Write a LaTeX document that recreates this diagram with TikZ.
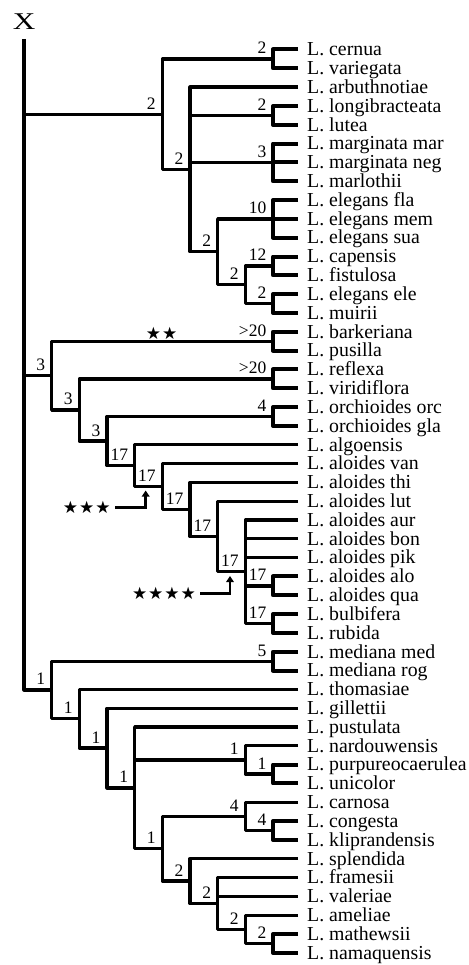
\documentclass[tikz,border=0pt]{standalone}
\usepackage{fontspec}
\usepackage{graphicx}
\setmainfont{Liberation Serif}
\newfontfamily\starfont{DejaVu Sans}
\usetikzlibrary{arrows.meta}
\begin{document}
\begin{tikzpicture}[x=1pt,y=-1pt,
  br/.style={line width=3.3pt, line join=round},
  pr/.style={line width=4pt, line join=round},
  leaf/.style={anchor=base west, inner sep=0pt, font=\fontsize{19.8}{20}\selectfont},
  lab/.style={anchor=base east, inner sep=0pt, font=\fontsize{17.5}{18}\selectfont},
  stars/.style={inner sep=0pt, anchor=center, font=\starfont\fontsize{17}{18}\selectfont},
  arr/.style={line width=2.8pt, -{Triangle[width=7.5pt,length=6pt]}}
]
\useasboundingbox (0,0) rectangle (468,965);
% title
\node[inner sep=0pt, anchor=base, font=\fontsize{24}{24}\selectfont] (X) at (24.2,29.3) {\scalebox{1.3}[1]{X}};
% leaves
\foreach \n [count=\i from 0] in {cernua, variegata, arbuthnotiae, longibracteata, lutea, marginata mar, marginata neg, marlothii, elegans fla, elegans mem, elegans sua, capensis, fistulosa, elegans ele, muirii, barkeriana, pusilla, reflexa, viridiflora, orchioides orc, orchioides gla, algoensis, aloides van, aloides thi, aloides lut, aloides aur, aloides bon, aloides pik, aloides alo, aloides qua, bulbifera, rubida, mediana med, mediana rog, thomasiae, gillettii, pustulata, nardouwensis, purpureocaerulea, unicolor, carnosa, congesta, kliprandensis, splendida, framesii, valeriae, ameliae, mathewsii, namaquensis}{
  \coordinate (l\i) at (298,{49.5+18.82*\i});
  \node[leaf] (t\i) at (307,{49.5+18.82*\i+6.3}) {L. \n};
}
% pair / triple brackets
\coordinate (P0) at (273,58.91);
\coordinate (Plon) at (273,115.37);
\coordinate (Tmar) at (273,162.42);
\coordinate (Tele) at (273,218.88);
\coordinate (Pcap) at (273,265.93);
\coordinate (Peel) at (273,303.57);
\coordinate (Pbar) at (273,341.21);
\coordinate (Pref) at (273,378.85);
\coordinate (Porc) at (273,416.49);
\coordinate (Palo) at (273,585.87);
\coordinate (Pbul) at (273,623.51);
\coordinate (Pmed) at (273,661.15);
\coordinate (Ppur) at (273,774.07);
\coordinate (Pcon) at (273,830.53);
\coordinate (Pmat) at (273,943.45);
% internal nodes
\coordinate (R) at (24,39);
\coordinate (N1) at (162.4,114.2);
\coordinate (N2) at (190,169.48);
\coordinate (N3) at (217.7,251.82);
\coordinate (N4) at (245.4,284.75);
\coordinate (B1) at (51.7,375.58);
\coordinate (B2) at (79.3,409.95);
\coordinate (B3) at (107,441.05);
\coordinate (B4) at (134.7,465.6);
\coordinate (B5) at (162.4,486.48);
\coordinate (B6) at (190,509.42);
\coordinate (B7) at (217.7,536.47);
\coordinate (B8) at (245.4,571.76);
\coordinate (C1) at (51.7,689.94);
\coordinate (C2) at (79.3,718.72);
\coordinate (C3) at (107,748.05);
\coordinate (C4) at (134.7,787.9);
\coordinate (D1) at (245.4,759.96);
\coordinate (C5) at (162.4,848.77);
\coordinate (D2) at (245.4,816.42);
\coordinate (C6) at (190,881.11);
\coordinate (C7) at (217.7,903.46);
\coordinate (C8) at (245.4,929.34);
% brackets
\draw[pr] (l0) -- (P0 |- l0) -- (P0 |- l1) -- (l1);
\draw[pr] (l3) -- (Plon |- l3) -- (Plon |- l4) -- (l4);
\draw[pr] (l5) -- (Tmar |- l5) -- (Tmar |- l7) -- (l7);
\draw[pr] (Tmar |- l6) -- (l6);
\draw[pr] (l8) -- (Tele |- l8) -- (Tele |- l10) -- (l10);
\draw[pr] (Tele |- l9) -- (l9);
\draw[pr] (l11) -- (Pcap |- l11) -- (Pcap |- l12) -- (l12);
\draw[pr] (l13) -- (Peel |- l13) -- (Peel |- l14) -- (l14);
\draw[pr] (l15) -- (Pbar |- l15) -- (Pbar |- l16) -- (l16);
\draw[pr] (l17) -- (Pref |- l17) -- (Pref |- l18) -- (l18);
\draw[pr] (l19) -- (Porc |- l19) -- (Porc |- l20) -- (l20);
\draw[pr] (l28) -- (Palo |- l28) -- (Palo |- l29) -- (l29);
\draw[pr] (l30) -- (Pbul |- l30) -- (Pbul |- l31) -- (l31);
\draw[pr] (l32) -- (Pmed |- l32) -- (Pmed |- l33) -- (l33);
\draw[pr] (l38) -- (Ppur |- l38) -- (Ppur |- l39) -- (l39);
\draw[pr] (l41) -- (Pcon |- l41) -- (Pcon |- l42) -- (l42);
\draw[pr] (l47) -- (Pmat |- l47) -- (Pmat |- l48) -- (l48);
% root
\draw[br] (R) -- (R |- C1) -- (C1);
\draw[br] (R |- N1) -- (N1);
\draw[br] (R |- B1) -- (B1);
% clade A
\draw[br] (P0) -- (N1 |- P0) -- (N1 |- N2) -- (N2);
\draw[br] (l2) -- (N2 |- l2) -- (N2 |- N3) -- (N3);
\draw[br] (N2 |- Plon) -- (Plon);
\draw[br] (N2 |- Tmar) -- (Tmar);
\draw[br] (Tele) -- (N3 |- Tele) -- (N3 |- N4) -- (N4);
\draw[br] (Pcap) -- (N4 |- Pcap) -- (N4 |- Peel) -- (Peel);
% clade B
\draw[br] (Pbar) -- (B1 |- Pbar) -- (B1 |- B2) -- (B2);
\draw[br] (Pref) -- (B2 |- Pref) -- (B2 |- B3) -- (B3);
\draw[br] (Porc) -- (B3 |- Porc) -- (B3 |- B4) -- (B4);
\draw[br] (l21) -- (B4 |- l21) -- (B4 |- B5) -- (B5);
\draw[br] (l22) -- (B5 |- l22) -- (B5 |- B6) -- (B6);
\draw[br] (l23) -- (B6 |- l23) -- (B6 |- B7) -- (B7);
\draw[br] (l24) -- (B7 |- l24) -- (B7 |- B8) -- (B8);
\draw[br] (l25) -- (B8 |- l25) -- (B8 |- Pbul) -- (Pbul);
\draw[br] (B8 |- l26) -- (l26);
\draw[br] (B8 |- l27) -- (l27);
\draw[br] (B8 |- Palo) -- (Palo);
% clade C
\draw[br] (Pmed) -- (C1 |- Pmed) -- (C1 |- C2) -- (C2);
\draw[br] (l34) -- (C2 |- l34) -- (C2 |- C3) -- (C3);
\draw[br] (l35) -- (C3 |- l35) -- (C3 |- C4) -- (C4);
\draw[br] (l36) -- (C4 |- l36) -- (C4 |- C5) -- (C5);
\draw[br] (C4 |- D1) -- (D1);
\draw[br] (l37) -- (D1 |- l37) -- (D1 |- Ppur) -- (Ppur);
\draw[br] (D2) -- (C5 |- D2) -- (C5 |- C6) -- (C6);
\draw[br] (l40) -- (D2 |- l40) -- (D2 |- Pcon) -- (Pcon);
\draw[br] (l43) -- (C6 |- l43) -- (C6 |- C7) -- (C7);
\draw[br] (l44) -- (C7 |- l44) -- (C7 |- C8) -- (C8);
\draw[br] (C7 |- l45) -- (l45);
\draw[br] (l46) -- (C8 |- l46) -- (C8 |- Pmat) -- (Pmat);
% support labels
\foreach \c/\v in {P0/2, Plon/2, Tmar/3, Tele/10, Pcap/12, Peel/2, Pbar/{>20}, Pref/{>20}, Porc/4, Palo/17, Pbul/17, Pmed/5, Ppur/1, Pcon/4, Pmat/2, N1/2, N2/2, N3/2, N4/2, B1/3, B2/3, B3/3, B4/17, B5/17, B6/17, B7/17, B8/17, C1/1, C2/1, C3/1, C4/1, D1/1, C5/1, D2/4, C6/2, C7/2, C8/2}{
  \node[lab] (lab\c) at ([shift={(-6.5,-5)}]\c) {\v};
}
% stars and arrows
\node[stars] (s2) at (161.7,333) {★\hspace{1pt}★};
\node[stars] (s3) at (86.7,507.3) {★\hspace{1pt}★\hspace{1pt}★};
\coordinate (a3s) at (115,507.3);
\coordinate (a3c) at (145.7,507.3);
\coordinate (a3t) at (145.7,490.5);
\draw[arr] (a3s) -- (a3c) -- (a3t);
\node[stars] (s4) at (164,593.3) {★\hspace{1pt}★\hspace{1pt}★\hspace{1pt}★};
\coordinate (a4s) at (200,593.3);
\coordinate (a4c) at (230,593.3);
\coordinate (a4t) at (230,576);
\draw[arr] (a4s) -- (a4c) -- (a4t);
\end{tikzpicture}
\end{document}
